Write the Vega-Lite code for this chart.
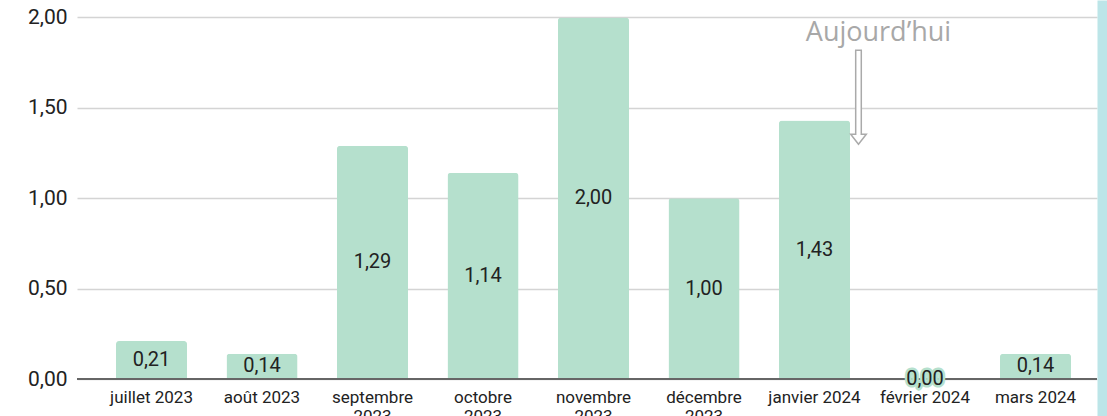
{
  "$schema": "https://vega.github.io/schema/vega-lite/v6.json",
  "width": 1020,
  "height": 416,
  "autosize": {"type": "none"},
  "padding": {"left": 77, "top": 0, "right": 10, "bottom": 0},
  "background": "white",
  "config": {
    "view": {"stroke": null},
    "font": "Roboto",
    "locale": {"number": {"decimal": ",", "thousands": "\u00a0", "grouping": [3], "currency": ["", "\u00a0€"]}}
  },
  "data": {
    "values": [
      {"month": "juillet 2023", "value": 0.21},
      {"month": "août 2023", "value": 0.14},
      {"month": "septembre 2023", "value": 1.29},
      {"month": "octobre 2023", "value": 1.14},
      {"month": "novembre 2023", "value": 2.00},
      {"month": "décembre 2023", "value": 1.00},
      {"month": "janvier 2024", "value": 1.43},
      {"month": "février 2024", "value": 0.00},
      {"month": "mars 2024", "value": 0.14}
    ]
  },
  "layer": [
    {
      "layer": [
        {
          "mark": {"type": "bar", "color": "#b5e0cd", "cornerRadiusTopLeft": 3, "cornerRadiusTopRight": 3},
          "encoding": {
            "x": {
              "field": "month", "type": "nominal", "sort": null,
              "scale": {
                "domain": ["juillet 2023", "août 2023", "septembre 2023", "octobre 2023", "novembre 2023", "décembre 2023", "janvier 2024", "février 2024", "mars 2024"],
                "paddingInner": 0.357, "paddingOuter": 0.294, "align": 0.6, "round": false
              },
              "axis": {
                "title": null, "orient": "bottom", "offset": -37, "domain": false, "ticks": false,
                "labelPadding": 10, "labelFontSize": 17, "labelColor": "#222222", "labelAngle": 0,
                "labelLineHeight": 19, "labelOverlap": false,
                "labelExpr": "indexof(['septembre 2023','octobre 2023','novembre 2023','décembre 2023'], datum.value) >= 0 ? split(datum.value, ' ') : datum.value"
              }
            },
            "y": {
              "field": "value", "type": "quantitative",
              "scale": {"domain": [-0.2047, 2.0968], "nice": false, "zero": false},
              "axis": {
                "title": null, "values": [0, 0.5, 1, 1.5, 2], "format": ".2f", "domain": false, "ticks": false,
                "labelPadding": 10, "labelFontSize": 21, "labelColor": "#222222",
                "gridColor": "#d4d4d4", "gridWidth": 1.5
              }
            }
          }
        },
        {
          "data": {"values": [{"base": 0}]},
          "mark": {"type": "rule", "color": "#666666", "strokeWidth": 2},
          "encoding": {
            "y": {"field": "base", "type": "quantitative", "scale": {"domain": [-0.2047, 2.0968], "nice": false, "zero": false}}
          }
        },
        {
          "data": {"values": [{"note": "Aujourd’hui", "arrowAt": 1.559, "textAt": 1.872}]},
          "mark": {
            "type": "point", "shape": "M-2.8,-47L2.8,-47L2.8,37L7.8,37L0,47L-7.8,37L-2.8,37Z",
            "size": 4, "filled": true, "fill": "#ffffff", "stroke": "#aaaaaa", "strokeWidth": 1.5,
            "opacity": 1, "xOffset": 44
          },
          "encoding": {
            "x": {"datum": "janvier 2024", "type": "nominal"},
            "y": {"field": "arrowAt", "type": "quantitative", "scale": {"domain": [-0.2047, 2.0968], "nice": false, "zero": false}}
          }
        },
        {
          "data": {"values": [{"note": "Aujourd’hui", "arrowAt": 1.559, "textAt": 1.872}]},
          "mark": {
            "type": "text", "font": "Open Sans", "fontSize": 27, "color": "#a8a8a8",
            "baseline": "alphabetic", "align": "center", "xOffset": 64
          },
          "encoding": {
            "x": {"datum": "janvier 2024", "type": "nominal"},
            "y": {"field": "textAt", "type": "quantitative", "scale": {"domain": [-0.2047, 2.0968], "nice": false, "zero": false}},
            "text": {"field": "note"}
          }
        }
      ]
    },
    {
      "layer": [
        {
          "mark": {
            "type": "text", "fontSize": 20, "baseline": "middle", "align": "center",
            "fill": "#b5e0cd", "stroke": "#b5e0cd", "strokeWidth": 5, "strokeJoin": "round"
          },
          "encoding": {
            "x": {"field": "month", "type": "nominal", "sort": null},
            "y": {
              "field": "value", "type": "quantitative",
              "scale": {"domain": [-0.4094, 4.1936], "nice": false, "zero": false},
              "axis": {
                "orient": "right", "offset": 5, "domainColor": "#bce5e8", "domainWidth": 10,
                "ticks": false, "labels": false, "grid": false, "title": null
              }
            },
            "text": {"field": "value", "type": "quantitative", "format": ".2f"}
          }
        },
        {
          "mark": {"type": "text", "fontSize": 20, "baseline": "middle", "align": "center", "fill": "#222222"},
          "encoding": {
            "x": {"field": "month", "type": "nominal", "sort": null},
            "y": {"field": "value", "type": "quantitative", "scale": {"domain": [-0.4094, 4.1936], "nice": false, "zero": false}},
            "text": {"field": "value", "type": "quantitative", "format": ".2f"}
          }
        }
      ]
    }
  ],
  "resolve": {"scale": {"y": "independent"}, "axis": {"y": "independent"}}
}
